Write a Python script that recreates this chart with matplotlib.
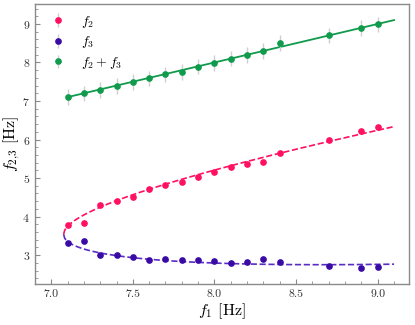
import numpy as np
import matplotlib
matplotlib.use("Agg")
import matplotlib.pyplot as plt

plt.rcParams['font.family'] = 'serif'
plt.rcParams['font.serif'] = ['cmr10']
plt.rcParams['mathtext.fontset'] = 'cm'
plt.rcParams['axes.formatter.use_mathtext'] = True

# measured frequencies
f1 = [7.1, 7.2, 7.3, 7.4, 7.5, 7.6, 7.7, 7.8, 7.9, 8.0, 8.1, 8.2, 8.3, 8.4, 8.7, 8.9, 9.0]
f2 = [3.79, 3.84, 4.31, 4.40, 4.52, 4.71, 4.81, 4.89, 5.02, 5.16, 5.29, 5.37, 5.41, 5.66, 5.99, 6.23, 6.32]
f3 = [3.32, 3.36, 2.99, 2.99, 2.96, 2.88, 2.89, 2.87, 2.88, 2.85, 2.80, 2.81, 2.89, 2.83, 2.71, 2.66, 2.68]
f23 = [7.10, 7.20, 7.29, 7.39, 7.49, 7.59, 7.69, 7.75, 7.89, 7.99, 8.10, 8.19, 8.30, 8.50, 8.70, 8.89, 8.99]
err_f2 = 0.05
err_f3 = 0.05
err_f23 = 0.2

# fit parameters: f2,3 = f1/2 +- c*sqrt(f1 - f0)/2
fit_f0 = 7.076
fit_c = 2.51
fit_end = 9.1

c_red = '#ff1060'
c_blue = '#3a0aa5'
c_green = '#109a4c'
c_err = '#cfcfcf'

fig, ax = plt.subplots(figsize=(4.15, 3.25), dpi=100)
fig.subplots_adjust(left=0.084, right=0.985, bottom=0.125, top=0.988)

f1_fit = np.linspace(fit_f0, fit_end, 300)
d = fit_c * np.sqrt(f1_fit - fit_f0)
ax.plot(f1_fit, f1_fit / 2 + d / 2, '--', color=c_red, lw=1.2, zorder=2)
ax.plot(f1_fit, f1_fit / 2 - d / 2, '--', color='#5a2cc4', lw=1.2, zorder=2)
f1_line = np.array([f1[0], fit_end])
ax.plot(f1_line, f1_line, '-', color=c_green, lw=1.3, zorder=2)

kw = dict(fmt='o', ms=3.8, ecolor=c_err, elinewidth=1.0, capsize=0, zorder=3)
ax.errorbar(f1, f2, yerr=err_f2, color=c_red, label=r'$f_2$', **kw)
ax.errorbar(f1, f3, yerr=err_f3, color=c_blue, label=r'$f_3$', **kw)
ax.errorbar(f1, f23, yerr=err_f23, color=c_green, label=r'$f_2 + f_3$', **kw)

ax.set_xlim(6.9, 9.19)
ax.set_ylim(2.24, 9.52)
ax.set_xticks([7.0, 7.5, 8.0, 8.5, 9.0])
ax.set_xticks(np.arange(6.9, 9.2, 0.1), minor=True)
ax.set_yticks([3, 4, 5, 6, 7, 8, 9])
ax.set_yticks(np.arange(2.4, 9.5, 0.2), minor=True)
ax.xaxis.set_major_formatter(matplotlib.ticker.FormatStrFormatter('%.1f'))

for s in ax.spines.values():
    s.set_color('#8a8a8a')
    s.set_linewidth(1.0)
ax.tick_params(which='both', direction='in', color='#8a8a8a', labelsize=8.5,
               labelcolor='#333333', top=False, right=False)
ax.tick_params(which='major', length=3.5)
ax.tick_params(which='minor', length=2)

ax.set_xlabel(r'$f_1$ [Hz]', fontsize=11.5, labelpad=2)
ax.set_ylabel(r'$f_{2{,}3}$ [Hz]', fontsize=11.5, labelpad=0)

ax.legend(loc='upper left', frameon=False, fontsize=10, handletextpad=0.6,
          borderaxespad=0.3, labelspacing=0.35)

fig.savefig('out.png', dpi=100)
